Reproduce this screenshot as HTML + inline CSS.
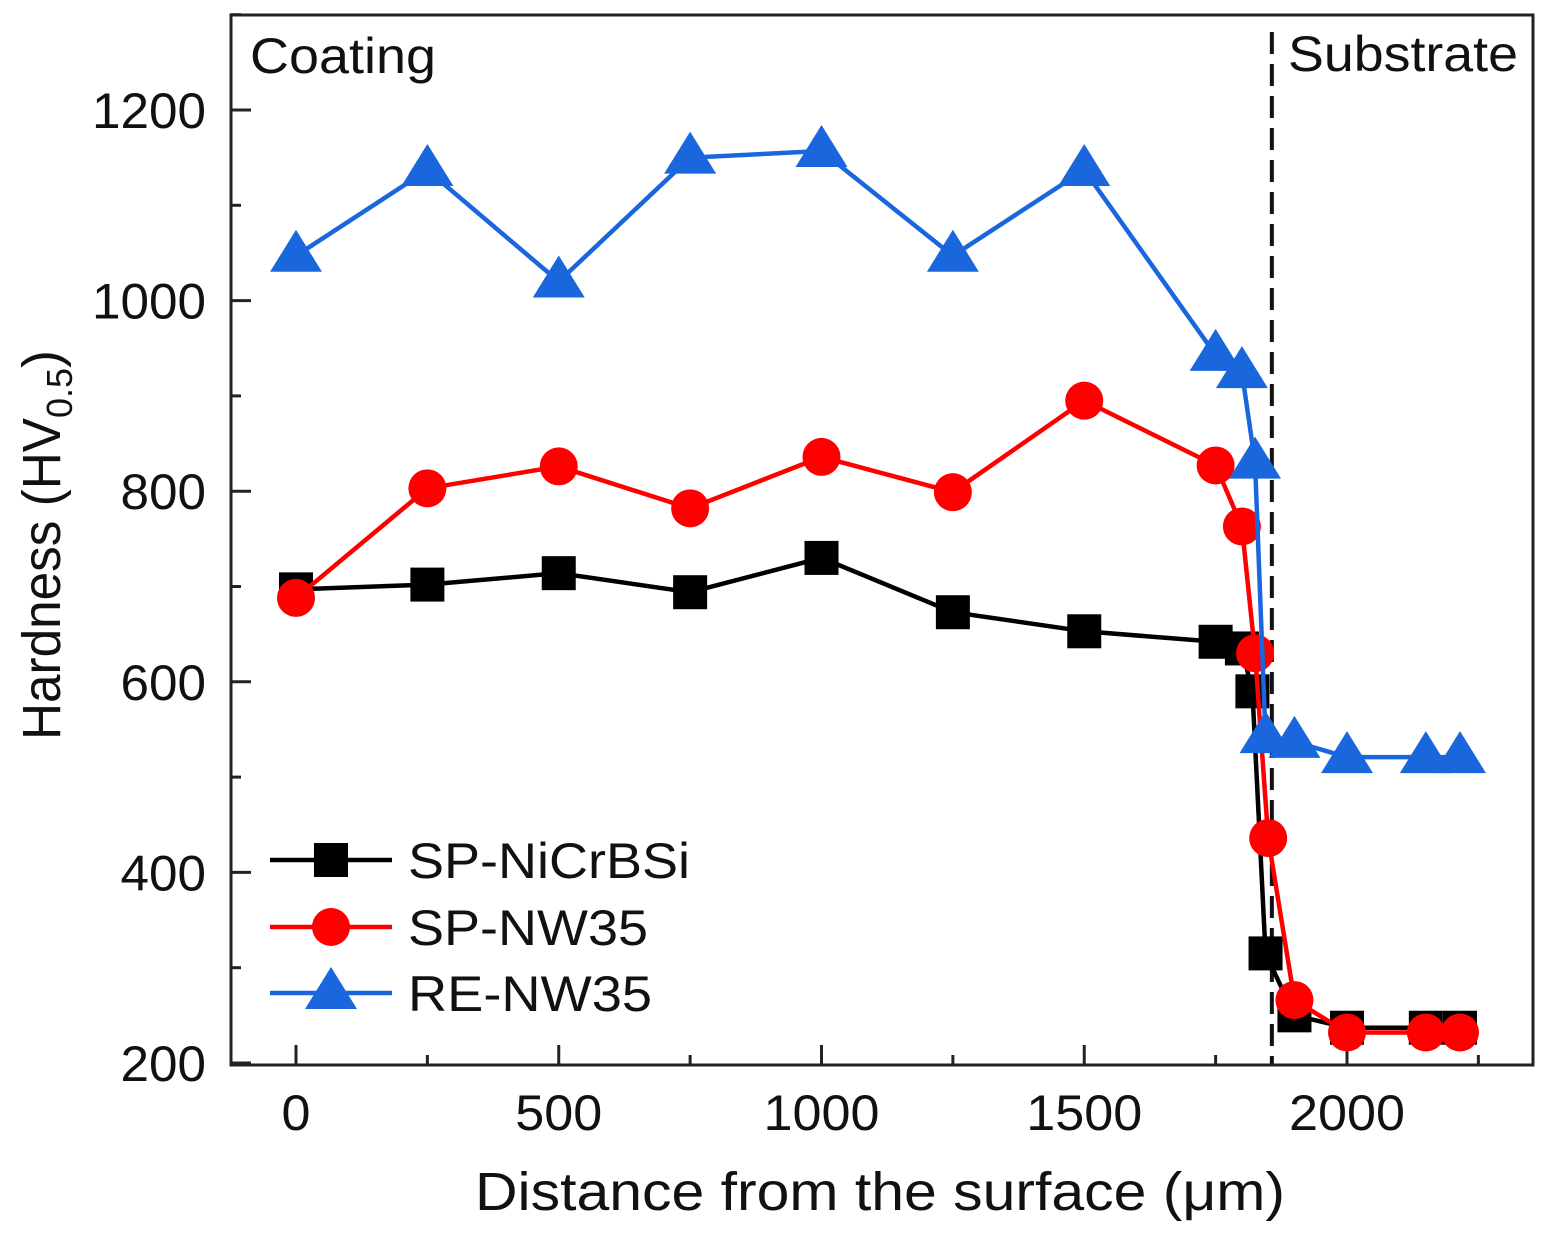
<!DOCTYPE html>
<html><head><meta charset="utf-8"><style>
body{margin:0;background:#fff;}
svg{display:block;font-family:"Liberation Sans",Arial,sans-serif;}
</style></head><body>
<svg id="chart" width="1551" height="1242" viewBox="0 0 1551 1242" xmlns="http://www.w3.org/2000/svg">
<rect x="0" y="0" width="1551" height="1242" fill="#fff"/>
<g id="grid"></g>
<g id="series"></g>
<rect x="231" y="15" width="1302" height="1050" fill="none" stroke="#222" stroke-width="3"/>
<text x="250" y="73" font-size="50" textLength="186" lengthAdjust="spacingAndGlyphs" fill="#111">Coating</text>
<text x="1288" y="71" font-size="50" textLength="230" lengthAdjust="spacingAndGlyphs" fill="#111">Substrate</text>
<text x="475" y="1210" font-size="54" textLength="810" lengthAdjust="spacingAndGlyphs" fill="#111">Distance from the surface (μm)</text>
<text transform="translate(60,740) rotate(-90)" font-size="54" fill="#111"><tspan textLength="322" lengthAdjust="spacingAndGlyphs">Hardness (HV</tspan><tspan font-size="36" dy="12">0.5</tspan><tspan dy="-12">)</tspan></text>
<g id="legend"></g>
</svg>
<script>
const xs = [0,250,500,750,1000,1250,1500,1750,1800,1820,1845,1900,2000,2150,2215];
const xsRed = [0,250,500,750,1000,1250,1500,1750,1800,1825,1850,1900,2000,2150,2215];
const xsBlue = [0,250,500,750,1000,1250,1500,1750,1800,1825,1845,1900,2000,2150,2215];
const blackVals = [697,702,714,694,730,673,653,642,635,590,315,250,237,237,237];
const redVals = [688,803,826,782,836,799,895,827,763,630,436,266,232,232,232];
const blueVals = [1047,1137,1020,1150,1157,1047,1137,943,925,830,542,537,521,521,521];
const xTicks = [0,500,1000,1500,2000];
const yTicks = [200,400,600,800,1000,1200];
const dividerX = 1857;
const seriesNames = ["SP-NiCrBSi","SP-NW35","RE-NW35"];

const NS="http://www.w3.org/2000/svg";
function X(v){return 296+(v-0)*(1347-296)/2000;}
function Y(v){return 1063-(v-200)*(1063-110)/1000;}
function mk(tag,attrs,parent){const e=document.createElementNS(NS,tag);for(const k in attrs)e.setAttribute(k,attrs[k]);parent.appendChild(e);return e;}
const grid=document.getElementById('grid'), ser=document.getElementById('series'), leg=document.getElementById('legend');

for(let v=0; v<=2250; v+=250){
  const major=v%500===0;
  const t=mk('line',{x1:X(v),x2:X(v),y1:1065,y2:1065-(major?20:10),stroke:'#222','stroke-width':3},grid);
  
  
}
xTicks.forEach(v=>{const s=String(v);const t=mk('text',{x:X(v),y:1130,'font-size':50,'text-anchor':'middle',fill:'#111',textLength:s.length*29,lengthAdjust:'spacingAndGlyphs'},grid);t.textContent=s;
  
  });
for(let v=200; v<=1300; v+=100){
  const major=v%200===0;
  const t=mk('line',{x1:231,x2:231+(major?20:10),y1:Y(v),y2:Y(v),stroke:'#222','stroke-width':3},grid);
  
  
}
yTicks.forEach(v=>{const s=String(v);const t=mk('text',{x:206,y:Y(v)+18,'font-size':50,'text-anchor':'end',fill:'#111',textLength:s.length*28.5,lengthAdjust:'spacingAndGlyphs'},grid);t.textContent=s;
  
  });

const dl=mk('line',{x1:X(dividerX),x2:X(dividerX),y1:32,y2:1065,stroke:'#111','stroke-width':4,'stroke-dasharray':'22,10'},ser);



function marker(type,cx,cy,color,parent){
  if(type==='sq') return mk('rect',{x:cx-17,y:cy-17,width:34,height:34,fill:color},parent);
  if(type==='ci') return mk('circle',{cx:cx,cy:cy,r:19,fill:color},parent);
  return mk('polygon',{points:`${cx},${cy-26} ${cx-26},${cy+16} ${cx+26},${cy+16}`,fill:color},parent);
}
const defs=[{x:xs,v:blackVals,c:'#000',m:'sq',n:'sp-nicrbsi'},{x:xsRed,v:redVals,c:'#f00',m:'ci',n:'sp-nw35'},{x:xsBlue,v:blueVals,c:'#1a66dd',m:'tr',n:'re-nw35'}];
defs.forEach(d=>{
  const g=mk('g',{},ser);
  
  
  const pts=d.v.map((v,i)=>X(d.x[i])+','+Y(v)).join(' ');
  const pl=mk('polyline',{points:pts,fill:'none',stroke:d.c,'stroke-width':4.5},g);
  
  
  d.v.forEach((v,i)=>{const m=marker(d.m,X(d.x[i]),Y(v),d.c,g);
    
    });
});
const ly=[860,927,993];
const lw=[282,240,244];
defs.forEach((d,i)=>{
  const g=mk('g',{},leg);
  
  
  mk('line',{x1:270,x2:392,y1:ly[i],y2:ly[i],stroke:d.c,'stroke-width':4.5},g);
  marker(d.m,331,ly[i],d.c,g);
  const t=mk('text',{x:408,y:ly[i]+18,'font-size':50,fill:'#111',textLength:lw[i],lengthAdjust:'spacingAndGlyphs'},g);t.textContent=seriesNames[i];
});
</script>
</body></html>
